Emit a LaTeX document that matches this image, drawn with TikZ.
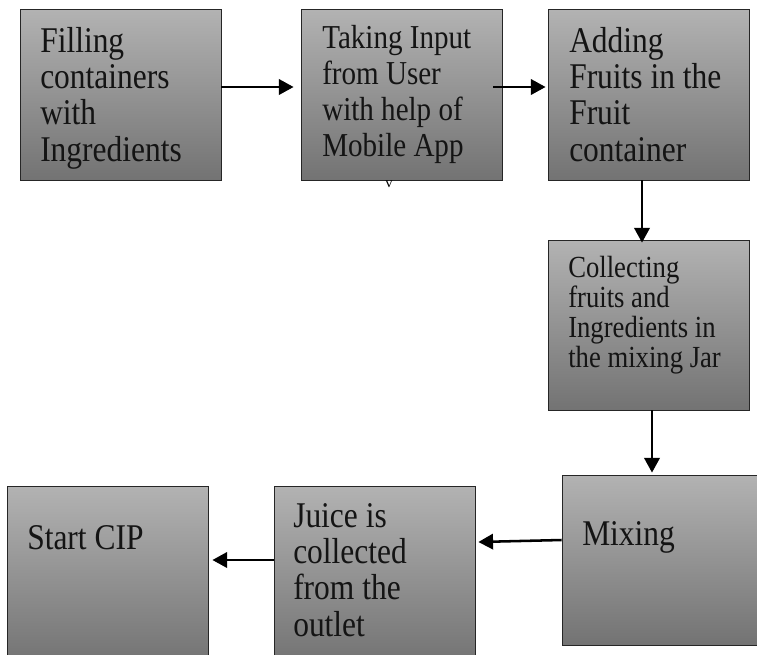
\documentclass[tikz,border=0pt]{standalone}
\usepackage{fontspec}
\setmainfont{Liberation Serif}
\usetikzlibrary{arrows.meta,calc}

\tikzset{
  stage/.style={draw=black!85, line width=0.6pt, rectangle, inner sep=0pt,
    top color=gray!80!white!75, bottom color=black!55!white,
    minimum width=#1*0.75pt},
  stage/.default=201,
  tall/.style={minimum height=#1*0.75pt},
  lbl/.style={anchor=base west, inner sep=0pt, text=black!92},
  big/.style={font=\fontsize{23.6}{23.8}\selectfont},
  mid/.style={font=\fontsize{21.8}{23.6}\selectfont},
  small/.style={font=\fontsize{20}{19.6}\selectfont},
  flow/.style={line width=1.9pt, -{Triangle[length=11pt,width=11.5pt]}}
}

% text set a little taller than wide, top line on the anchor's baseline
\newcommand{\lines}[1]{\scalebox{1}[1.15]{\parbox[t]{7cm}{#1}}}

\begin{document}
\begin{tikzpicture}[x=0.75pt, y=-0.75pt]
  \useasboundingbox (0,0) rectangle (757,654);
  \clip (0,0) rectangle (757,654);

  % process boxes
  \node[stage, tall=171] (b1) at (120.5,94.5) {};
  \node[stage, tall=171] (b2) at (401.5,94.5) {};
  \node[stage, tall=171] (b3) at (648.5,94.5) {};
  \node[stage, tall=170] (b4) at (648.5,325) {};
  \node[stage=203, tall=170] (b5) at (663.5,560) {};
  \node[stage, tall=178] (b6) at (374.5,575) {};
  \node[stage, tall=178] (b7) at (107.5,575) {};

  % box texts
  \node[lbl, big] (t1) at (40,52) {\lines{Filling\\containers\\with\\Ingredients}};
  \node[lbl, mid] (t2) at (322,48) {\lines{Taking Input\\from User\\with help of\\Mobile App}};
  \node[lbl, big] (t3) at (569,52) {\lines{Adding\\Fruits in the\\Fruit\\container}};
  \node[lbl, small] (t4) at (568,277) {\lines{Collecting\\fruits and\\Ingredients in\\the mixing Jar}};
  \node[lbl, big] (t5) at (582,545) {\lines{Mixing}};
  \node[lbl, big] (t6) at (293,527) {\lines{Juice is\\collected\\from the\\outlet}};
  \node[lbl, big] (t7) at (27,549) {\lines{Start CIP}};

  % small mark under the second box
  \node[inner sep=0pt, font=\fontsize{11}{11}\selectfont] (tick) at (389,184) {v};

  % connectors
  \draw[flow] ($(b1.east)+(0,-7.5)$) -- ($(b2.west)+(-7,-7.5)$);
  \draw[flow] ($(b2.east)+(-9,-7.5)$) -- ($(b3.west)+(-2,-7.5)$);
  \draw[flow] ($(b3.south)+(-6.5,0)$) -- ($(b4.north)+(-6.5,3)$);
  \draw[flow] ($(b4.south)+(3.5,0)$) -- ($(b5.north)+(-11.5,-2)$);
  \draw[flow] ($(b5.west)+(0,-20)$) -- ($(b6.east)+(3,-33)$);
  \draw[flow] ($(b6.west)+(0,-15)$) -- ($(b7.east)+(4,-15)$);
\end{tikzpicture}
\end{document}
